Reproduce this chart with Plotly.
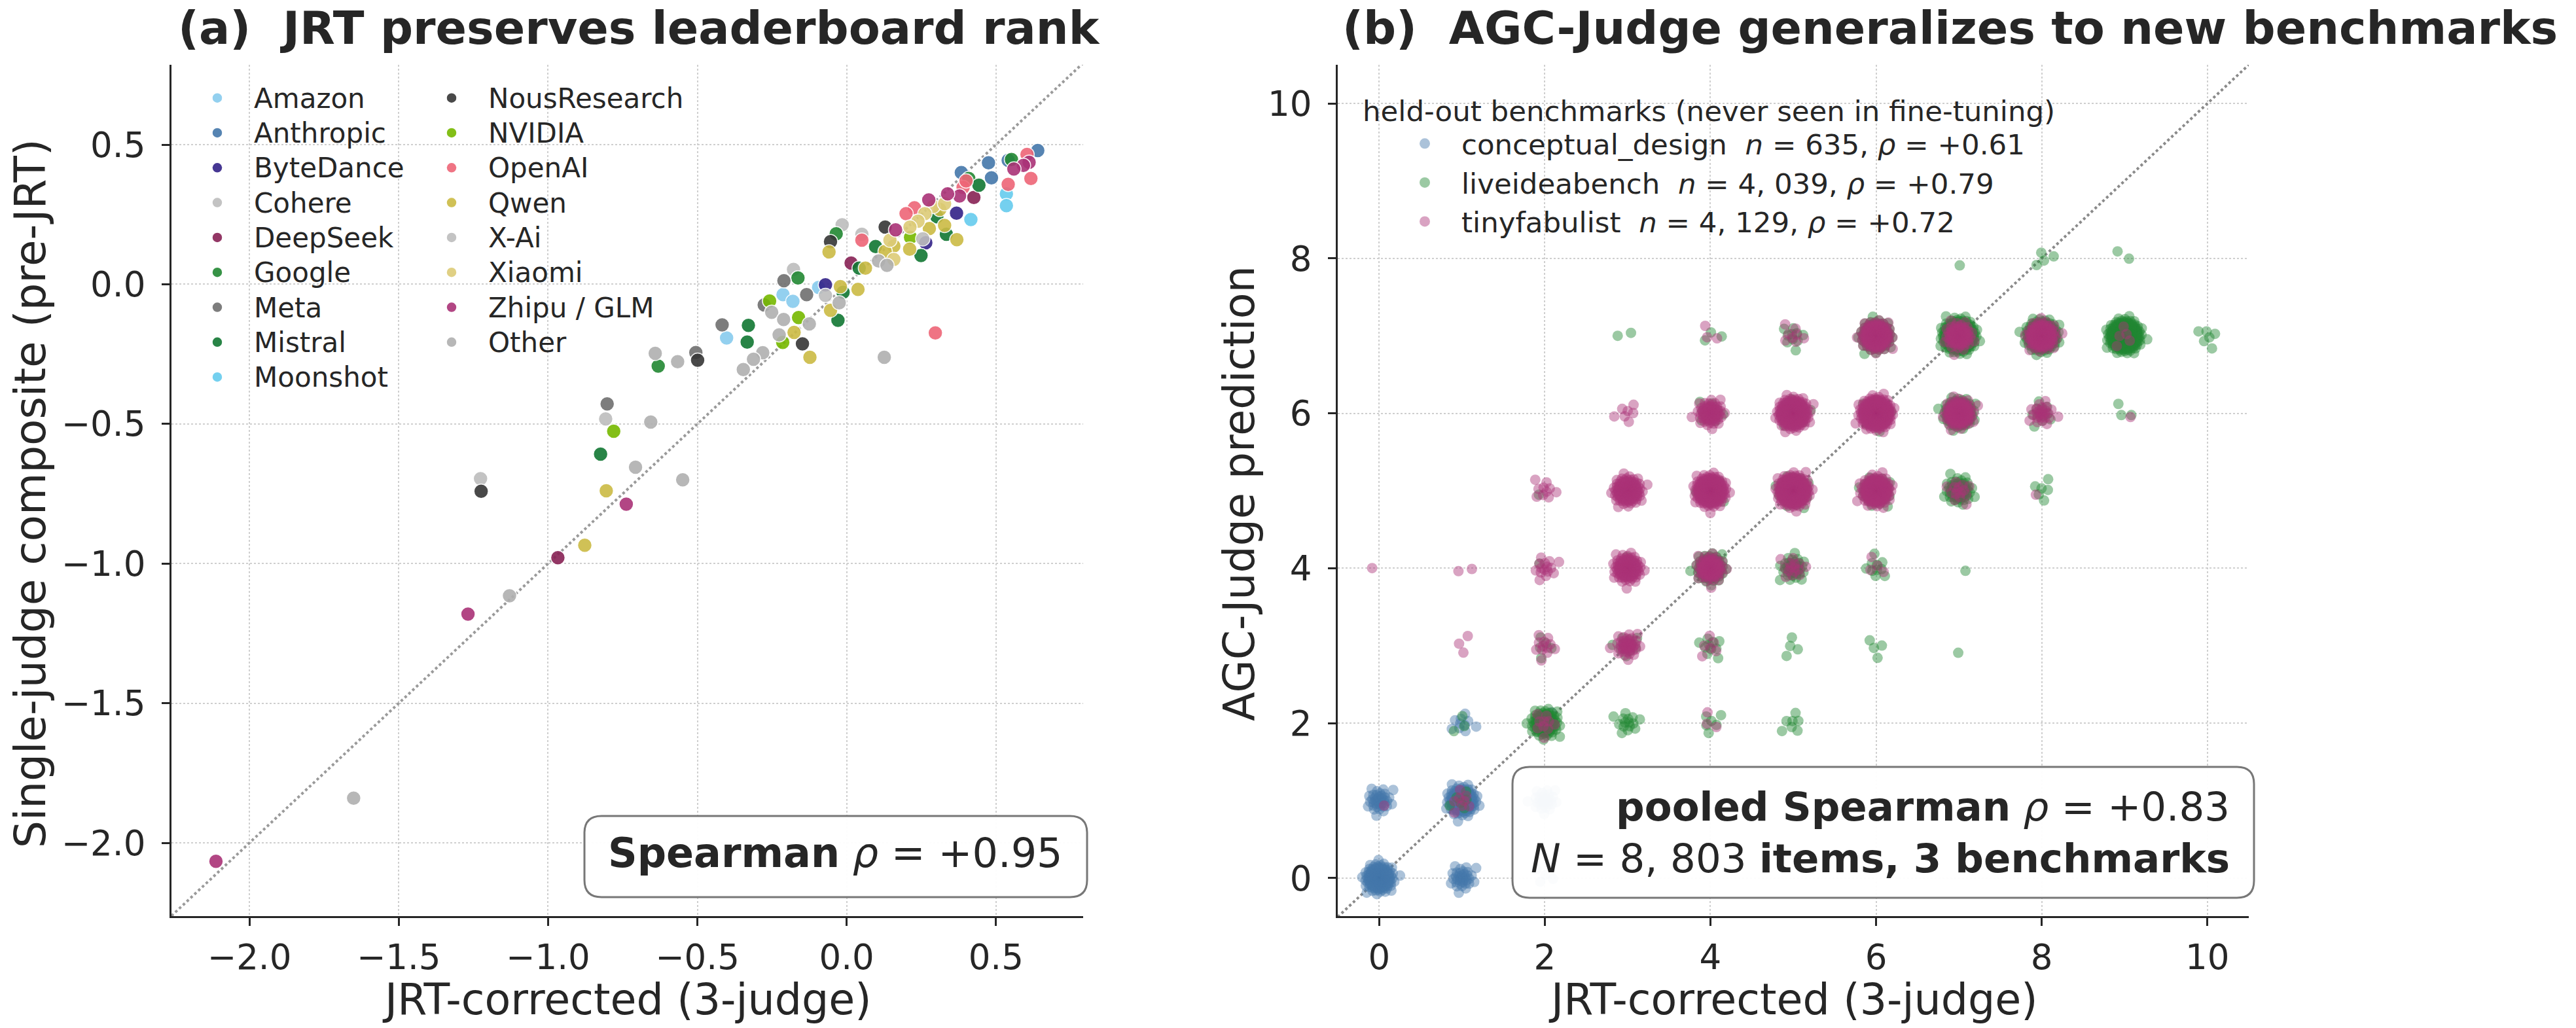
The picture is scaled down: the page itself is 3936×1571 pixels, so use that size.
import math
import plotly.graph_objects as go

W, H = 3936, 1571
FONT = "DejaVu Sans"
INK = "#262626"

# ---------------- Panel (a): per-organisation model scores ----------------
ORGS = ["Amazon", "Anthropic", "ByteDance", "Cohere", "DeepSeek", "Google", "Meta", "Mistral",
        "Moonshot", "NousResearch", "NVIDIA", "OpenAI", "Qwen", "X-Ai", "Xiaomi", "Zhipu / GLM", "Other"]
ORG_COLORS = ["#88CCEE", "#4477AA", "#332288", "#BDBDBD", "#882255", "#228833", "#6F6F6F", "#117733",
              "#66CCEE", "#363636", "#76B900", "#EE6677", "#CCBB44", "#BDBDBD", "#DDCC77", "#AA3377", "#B0B0B0"]

amazon_jrt = [-0.213, -0.180, -0.402, -0.094]
amazon_single = [-0.037, -0.061, -0.192, -0.011]
anthropic_jrt = [0.640, 0.541, 0.475, 0.485, 0.384]
anthropic_single = [0.479, 0.444, 0.435, 0.381, 0.400]
bytedance_jrt = [0.368, 0.265, -0.071]
bytedance_single = [0.255, 0.149, -0.002]
cohere_jrt = [-0.015, 0.051, -0.178, -0.807, -1.226]
cohere_single = [0.213, 0.179, 0.053, -0.482, -0.696]
deepseek_jrt = [0.426, 0.015, -0.967]
deepseek_single = [0.311, 0.076, -0.979]
google_jrt = [0.552, 0.409, -0.035, -0.631, -0.163]
google_single = [0.447, 0.379, 0.181, -0.293, 0.023]
meta_jrt = [-0.210, -0.134, -0.276, -0.417, -0.802, -0.505]
meta_single = [0.013, -0.037, -0.074, -0.145, -0.428, -0.244]
mistral_jrt = [0.443, 0.302, 0.334, 0.097, 0.249, 0.042, -0.012, -0.029, -0.329, -0.333, -0.824]
mistral_single = [0.355, 0.242, 0.179, 0.135, 0.103, 0.058, -0.029, -0.129, -0.147, -0.207, -0.608]
moonshot_jrt = [0.416, 0.535, 0.535]
moonshot_single = [0.232, 0.324, 0.282]
nous_jrt = [0.129, -0.054, -0.148, -1.224, -0.499]
nous_single = [0.205, 0.153, -0.213, -0.741, -0.272]
nvidia_jrt = [0.214, -0.258, -0.161, -0.214, -0.780]
nvidia_single = [0.168, -0.060, -0.119, -0.208, -0.526]
openai_jrt = [0.604, 0.617, 0.541, 0.390, 0.227, 0.199, 0.051, 0.297, 0.400]
openai_single = [0.465, 0.379, 0.358, 0.347, 0.274, 0.253, 0.158, -0.174, 0.370]
qwen_jrt = [0.312, 0.277, 0.328, 0.369, -0.059, 0.158, 0.129, 0.211, 0.063, -0.021, 0.038,
            -0.054, -0.176, -0.123, -0.805, -0.877]
qwen_single = [0.268, 0.200, 0.211, 0.160, 0.116, 0.137, 0.118, 0.126, 0.058, -0.008, -0.018,
               -0.093, -0.172, -0.261, -0.739, -0.934]
xai_jrt = [0.255, -0.071]
xai_single = [0.163, -0.040]
xiaomi_jrt = [0.290, 0.328, 0.262, 0.239, 0.212, 0.145, 0.158]
xiaomi_single = [0.279, 0.289, 0.253, 0.226, 0.205, 0.158, 0.089]
zhipu_jrt = [0.611, 0.592, 0.560, 0.378, 0.338, 0.275, 0.164, -0.738, -1.268, -2.112]
zhipu_single = [0.437, 0.426, 0.413, 0.316, 0.324, 0.302, 0.195, -0.787, -1.181, -2.066]
other_jrt = [0.107, 0.135, -0.025, -0.251, -0.211, -0.125, -0.226, -0.281, -0.312, -0.346, 0.126,
             -0.641, -0.566, -0.656, -0.707, -0.549, -1.129, -1.651]
other_single = [0.084, 0.068, -0.066, -0.100, -0.126, -0.142, -0.181, -0.245, -0.268, -0.305, -0.261,
                -0.247, -0.277, -0.493, -0.655, -0.700, -1.115, -1.840]

ORG_DATA = [(amazon_jrt, amazon_single), (anthropic_jrt, anthropic_single), (bytedance_jrt, bytedance_single),
            (cohere_jrt, cohere_single), (deepseek_jrt, deepseek_single), (google_jrt, google_single),
            (meta_jrt, meta_single), (mistral_jrt, mistral_single), (moonshot_jrt, moonshot_single),
            (nous_jrt, nous_single), (nvidia_jrt, nvidia_single), (openai_jrt, openai_single),
            (qwen_jrt, qwen_single), (xai_jrt, xai_single), (xiaomi_jrt, xiaomi_single),
            (zhipu_jrt, zhipu_single), (other_jrt, other_single)]

# ---------------- Panel (b): item counts per (JRT score, AGC prediction) cell ----------------
BENCH_LABELS = ["conceptual_design  <i>n</i> = 635, <i>ρ</i> = +0.61",
                "liveideabench  <i>n</i> = 4, 039, <i>ρ</i> = +0.79",
                "tinyfabulist  <i>n</i> = 4, 129, <i>ρ</i> = +0.72"]
BENCH_COLORS = ["#4477AA", "#228833", "#AA3377"]

cd_true = [0, 1, 0, 1, 2, 2, 1, 2]
cd_pred = [0, 0, 1, 1, 1, 0, 2, 2]
cd_count = [255, 35, 40, 256, 30, 4, 10, 5]

lib_true = [7, 9, 8, 6, 5, 4, 3, 10, 7, 6, 5, 4, 8, 9, 5, 6, 4, 7, 8, 2, 4, 5, 6, 7,
            3, 2, 4, 5, 6, 7, 2, 1, 3, 4, 5, 1, 8, 9, 7, 2, 3]
lib_pred = [7, 7, 7, 7, 7, 7, 7, 7, 6, 6, 6, 6, 6, 6, 5, 5, 5, 5, 5, 5, 4, 4, 4, 4,
            3, 3, 3, 3, 3, 3, 2, 2, 2, 2, 2, 1, 8, 8, 8, 4, 4]
lib_count = [1100, 800, 600, 300, 10, 3, 2, 6, 250, 60, 40, 15, 12, 3, 150, 100, 30, 80, 6, 1, 150, 40, 10, 1,
             12, 5, 10, 4, 4, 1, 150, 3, 15, 6, 7, 6, 4, 2, 1, 1, 3]

tf_true = [3, 3, 4, 4, 4, 5, 5, 6, 6, 6, 7, 7, 8, 8, 3, 2, 2, 2, 5, 7, 4, 4, 2, 1, 3,
           5, 4, 6, 9, 0, 1, 1, 8, 9, 0]
tf_pred = [4, 5, 4, 5, 6, 5, 6, 5, 6, 7, 6, 7, 7, 6, 3, 4, 5, 3, 4, 5, 3, 2, 2, 1, 6,
           7, 7, 4, 7, 4, 4, 3, 5, 6, 1]
tf_count = [150, 200, 100, 500, 80, 650, 500, 300, 700, 250, 180, 100, 200, 25, 40, 15, 10, 12, 15, 15, 6, 3, 10, 8, 7,
            8, 3, 4, 5, 1, 2, 3, 1, 1, 1]

BENCH_CELLS = [(cd_true, cd_pred, cd_count), (lib_true, lib_pred, lib_count), (tf_true, tf_pred, tf_count)]

# ---------------- layout constants ----------------
A_RANGE = [-2.261, 0.792]
A_YRANGE = [-2.262, 0.786]
B_RANGE = [-0.5, 10.5]
B_YRANGE = [-0.49, 10.5]
JIT_X, JIT_Y = 0.072, 0.077
GOLDEN = math.pi * (3 - math.sqrt(5))


def px(x):
    return x / W


def py(y):
    return 1 - y / H


def jitter_cells(tx, ty, counts, phase):
    """Spread each cell's items in a deterministic sunflower (Gaussian-like) cloud."""
    xs, ys = [], []
    for cx, cy, n in zip(tx, ty, counts):
        for k in range(n):
            u = (k + 0.5) / n
            r = math.sqrt(-2 * math.log(1 - u))
            a = k * GOLDEN + phase + cx * 0.7 + cy * 1.3
            xs.append(cx + JIT_X * r * math.cos(a))
            ys.append(cy + JIT_Y * r * math.sin(a))
    return xs, ys


fig = go.Figure()

# identity lines
fig.add_trace(go.Scatter(x=A_RANGE, y=A_RANGE, mode="lines", xaxis="x", yaxis="y",
                         line=dict(color="#9a9a9a", width=4, dash="dot"), showlegend=False, hoverinfo="skip"))
fig.add_trace(go.Scatter(x=B_RANGE, y=B_RANGE, mode="lines", xaxis="x2", yaxis="y2",
                         line=dict(color="#8a8a8a", width=4, dash="dot"), showlegend=False, hoverinfo="skip"))

for i, (name, color, (xs, ys)) in enumerate(zip(ORGS, ORG_COLORS, ORG_DATA)):
    fig.add_trace(go.Scatter(
        x=xs, y=ys, mode="markers", name=f'<span style="font-size:42px">{name}</span>',
        xaxis="x", yaxis="y", legend="legend" if i < 9 else "legend2",
        marker=dict(size=22, color=color, opacity=0.9, line=dict(color="white", width=1.5)),
    ))

for i, (label, color, (tx, ty, cnt)) in enumerate(zip(BENCH_LABELS, BENCH_COLORS, BENCH_CELLS)):
    xs, ys = jitter_cells(tx, ty, cnt, phase=i * 2.1)
    fig.add_trace(go.Scatter(
        x=xs, y=ys, mode="markers", name=label, xaxis="x2", yaxis="y2", legend="legend3",
        marker=dict(size=16, color=color, opacity=0.45, line=dict(width=0)),
    ))

axis_common = dict(
    showline=True, linewidth=3, linecolor=INK, mirror=False,
    ticks="outside", ticklen=12, tickwidth=3, tickcolor=INK,
    showgrid=True, gridcolor="#cfcfcf", gridwidth=2, griddash="dot",
    zeroline=False, tickfont=dict(family=FONT, size=53, color=INK),
)
ydom = [py(1400), py(99)]

fig.update_layout(
    width=W, height=H, margin=dict(l=0, r=0, t=0, b=0),
    paper_bgcolor="white", plot_bgcolor="white",
    font=dict(family=FONT, color=INK),
    xaxis=dict(domain=[px(262), px(1655)], range=A_RANGE, anchor="y",
               tickvals=[-2.0, -1.5, -1.0, -0.5, 0.0, 0.5], tickformat=".1f",
               ticklabelstandoff=2, **axis_common),
    yaxis=dict(domain=ydom, range=A_YRANGE, anchor="x",
               tickvals=[-2.0, -1.5, -1.0, -0.5, 0.0, 0.5], tickformat=".1f",
               ticklabelstandoff=14, **axis_common),
    xaxis2=dict(domain=[px(2044), px(3436)], range=B_RANGE, anchor="y2",
                tickvals=[0, 2, 4, 6, 8, 10], ticklabelstandoff=2, **axis_common),
    yaxis2=dict(domain=ydom, range=B_YRANGE, anchor="x2",
                tickvals=[0, 2, 4, 6, 8, 10], ticklabelstandoff=14, **axis_common),
    legend=dict(x=px(276), y=py(118), xanchor="left", yanchor="top", bgcolor="rgba(0,0,0,0)",
                font=dict(family=FONT, size=38.7, color=INK), itemwidth=102, borderwidth=0),
    legend2=dict(x=px(634), y=py(118), xanchor="left", yanchor="top", bgcolor="rgba(0,0,0,0)",
                 font=dict(family=FONT, size=38.7, color=INK), itemwidth=102, borderwidth=0),
    legend3=dict(x=px(2080), y=py(128), xanchor="left", yanchor="top", bgcolor="rgba(0,0,0,0)",
                 font=dict(family=FONT, size=43.5, color=INK), itemwidth=102, borderwidth=0,
                 indentation=41,
                 title=dict(text="held-out benchmarks (never seen in fine-tuning)",
                            font=dict(family=FONT, size=43.5, color=INK))),
    showlegend=True,
)


def rounded_box(x0, y0, x1, y1, r=26):
    X0, X1 = px(x0), px(x1)
    Y0, Y1 = py(y1), py(y0)
    rx, ry = r / W, r / H
    return (f"M {X0+rx},{Y0} L {X1-rx},{Y0} Q {X1},{Y0} {X1},{Y0+ry} L {X1},{Y1-ry} "
            f"Q {X1},{Y1} {X1-rx},{Y1} L {X0+rx},{Y1} Q {X0},{Y1} {X0},{Y1-ry} "
            f"L {X0},{Y0+ry} Q {X0},{Y0} {X0+rx},{Y0} Z")


fig.add_shape(type="path", xref="paper", yref="paper", path=rounded_box(893, 1247, 1661, 1371),
              line=dict(color="#777777", width=3), fillcolor="rgba(255,255,255,0.95)", layer="above")
fig.add_shape(type="path", xref="paper", yref="paper", path=rounded_box(2311, 1172, 3444, 1372),
              line=dict(color="#777777", width=3), fillcolor="rgba(255,255,255,0.95)", layer="above")

fig.add_annotation(xref="paper", yref="paper", x=px(1276), y=py(1303), xanchor="center", yanchor="middle",
                   text="<b>Spearman</b> <i>ρ</i> = +0.95", showarrow=False,
                   font=dict(family=FONT, size=62, color=INK))
fig.add_annotation(xref="paper", yref="paper", x=px(3409), y=py(1272), xanchor="right", yanchor="middle",
                   align="right", showarrow=False,
                   text="<b>pooled Spearman</b> <i>ρ</i> = +0.83<br><i>N</i> = 8, 803 <b>items, 3 benchmarks</b>",
                   font=dict(family=FONT, size=61, color=INK))

# panel titles
fig.add_annotation(xref="paper", yref="paper", x=px(976), y=py(43), xanchor="center", yanchor="middle",
                   text="<b>(a)  JRT preserves leaderboard rank</b>", showarrow=False,
                   font=dict(family=FONT, size=70, color=INK))
fig.add_annotation(xref="paper", yref="paper", x=px(2049), y=py(43), xanchor="left", yanchor="middle",
                   text="<b>(b)  AGC-Judge generalizes to new benchmarks</b>", showarrow=False,
                   font=dict(family=FONT, size=70, color=INK))

# axis titles
AX_TITLE_FONT = dict(family=FONT, size=65, color=INK)
fig.add_annotation(xref="paper", yref="paper", x=px(958), y=py(1527), xanchor="center", yanchor="middle",
                   text="JRT-corrected (3-judge)", showarrow=False, font=AX_TITLE_FONT, borderpad=0)
fig.add_annotation(xref="paper", yref="paper", x=px(2740), y=py(1527), xanchor="center", yanchor="middle",
                   text="JRT-corrected (3-judge)", showarrow=False, font=AX_TITLE_FONT, borderpad=0)
fig.add_annotation(xref="paper", yref="paper", x=px(46), y=py(754), xanchor="center", yanchor="middle",
                   text="Single-judge composite (pre-JRT)", textangle=-90, showarrow=False,
                   font=dict(family=FONT, size=66, color=INK))
fig.add_annotation(xref="paper", yref="paper", x=px(1893), y=py(754), xanchor="center", yanchor="middle",
                   text="AGC-Judge prediction", textangle=-90, showarrow=False, font=AX_TITLE_FONT)

fig.write_html("out.html")
